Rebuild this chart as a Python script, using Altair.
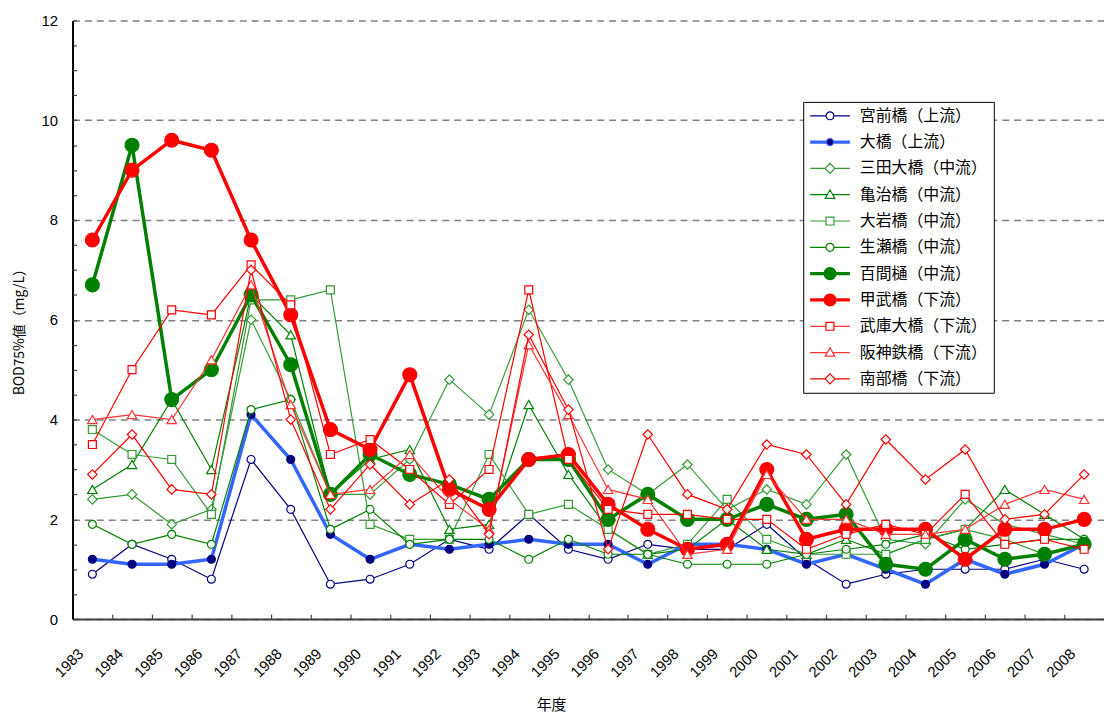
import altair as alt
import pandas as pd

years = [str(y) for y in range(1983, 2009)]

names = ["宮前橋（上流）", "大橋（上流）", "三田大橋（中流）", "亀治橋（中流）", "大岩橋（中流）",
         "生瀬橋（中流）", "百間樋（中流）", "甲武橋（下流）", "武庫大橋（下流）", "阪神鉄橋（下流）", "南部橋（下流）"]

miyamae = [0.9, 1.5, 1.2, 0.8, 3.2, 2.2, 0.7, 0.8, 1.1, 1.6, 1.4, 2.1, 1.4, 1.2, 1.5, 1.4, 1.4, 1.9, 1.2, 0.7, 0.9, 1.0, 1.0, 1.0, 1.2, 1.0]
ohashi = [1.2, 1.1, 1.1, 1.2, 4.1, 3.2, 1.7, 1.2, 1.5, 1.4, 1.5, 1.6, 1.5, 1.5, 1.1, 1.5, 1.5, 1.4, 1.1, 1.3, 1.0, 0.7, 1.2, 0.9, 1.1, 1.5]
sanda = [2.4, 2.5, 1.9, 2.2, 6.0, 4.4, 2.5, 2.5, 3.2, 4.8, 4.1, 6.2, 4.8, 3.0, 2.5, 3.1, 2.2, 2.6, 2.3, 3.3, 1.6, 1.5, 2.4, 1.9, 1.7, 1.5]
kameji = [2.6, 3.1, 4.4, 3.0, 6.5, 5.7, 2.5, 3.2, 3.4, 1.8, 1.9, 4.3, 2.9, 1.8, 1.3, 1.4, 2.0, 1.4, 1.3, 1.6, 1.3, 1.6, 1.8, 2.6, 2.1, 1.6]
oiwa = [3.8, 3.3, 3.2, 2.1, 6.4, 6.4, 6.6, 1.9, 1.6, 1.6, 3.3, 2.1, 2.3, 1.8, 1.3, 1.5, 2.4, 1.6, 1.3, 1.3, 1.3, 1.6, 1.8, 1.6, 1.3, 1.5]
namaze = [1.9, 1.5, 1.7, 1.5, 4.2, 4.4, 1.8, 2.2, 1.5, 1.6, 1.6, 1.2, 1.6, 1.3, 1.3, 1.1, 1.1, 1.1, 1.3, 1.4, 1.5, 1.7, 1.4, 1.5, 1.6, 1.6]
hyakkenhi = [6.7, 9.5, 4.4, 5.0, 6.5, 5.1, 2.5, 3.3, 2.9, 2.7, 2.4, 3.2, 3.2, 2.0, 2.5, 2.0, 2.0, 2.3, 2.0, 2.1, 1.1, 1.0, 1.6, 1.2, 1.3, 1.5]
kobu = [7.6, 9.0, 9.6, 9.4, 7.6, 6.1, 3.8, 3.4, 4.9, 2.6, 2.2, 3.2, 3.3, 2.3, 1.8, 1.4, 1.5, 3.0, 1.6, 1.8, 1.8, 1.8, 1.2, 1.8, 1.8, 2.0]
mukoohashi = [3.5, 5.0, 6.2, 6.1, 7.1, 6.3, 3.3, 3.6, 3.0, 2.3, 3.0, 6.6, 3.2, 2.2, 2.1, 2.1, 2.0, 2.0, 1.4, 1.7, 1.9, 1.7, 2.5, 1.5, 1.6, 1.4]
hanshin = [4.0, 4.1, 4.0, 5.2, 6.7, 4.3, 2.5, 2.6, 3.3, 2.4, 1.8, 5.5, 4.1, 2.6, 2.4, 1.3, 1.4, 2.9, 2.0, 2.0, 1.7, 1.7, 1.8, 2.3, 2.6, 2.4]
nanbu = [2.9, 3.7, 2.6, 2.5, 7.0, 4.0, 2.2, 3.1, 2.3, 2.8, 1.7, 5.7, 4.2, 1.4, 3.7, 2.5, 2.2, 3.5, 3.3, 2.3, 3.6, 2.8, 3.4, 2.0, 2.1, 2.9]

series_values = [miyamae, ohashi, sanda, kameji, oiwa, namaze, hyakkenhi, kobu, mukoohashi, hanshin, nanbu]

y_tick_values = [0, 2, 4, 6, 8, 10, 12]
y_minor_values = [i * 0.5 for i in range(25)]

# styles
line_colors = ["#000080", "#3366FF", "#339933", "#008000", "#339933", "#008000",
               "#008000", "#FF0000", "#FF0000", "#FF3333", "#FF0000"]
line_widths = [1.2, 3.5, 1.2, 1.2, 1.2, 1.2, 3.5, 3.5, 1.2, 1.2, 1.2]
marker_shapes = ["circle", "circle", "diamond", "triangle-up", "square", "circle",
                 "circle", "circle", "square", "triangle-up", "diamond"]
marker_sizes = [64, 64, 90, 90, 64, 64, 196, 196, 64, 90, 90]
marker_strokes = ["#000080", "#000080", "#339933", "#008000", "#339933", "#008000",
                  "#008000", "#FF0000", "#FF0000", "#FF3333", "#FF0000"]
marker_fills = ["white", "#000080", "white", "white", "white", "white",
                "#008000", "#FF0000", "white", "white", "white"]

# legend symbols: line + marker as SVG paths (unit = 4px)
P_CIRCLE = "M-5,0H-1M1,0H5M1,0A1,1,0,1,1,-1,0A1,1,0,1,1,1,0Z"
P_DOT_THICK = ("M-5,-0.25H-1M-5,0H-1M-5,0.25H-1M1,-0.25H5M1,0H5M1,0.25H5"
               "M0.9,0A0.9,0.9,0,1,1,-0.9,0A0.9,0.9,0,1,1,0.9,0Z")
P_BIG = ("M-5,-0.25H-1.5M-5,0H-1.5M-5,0.25H-1.5M1.5,-0.25H5M1.5,0H5M1.5,0.25H5"
         "M1.5,0A1.5,1.5,0,1,1,-1.5,0A1.5,1.5,0,1,1,1.5,0Z")
P_DIAMOND = "M-5,0H-1.25M1.25,0H5M0,-1.25L1.25,0L0,1.25L-1.25,0Z"
P_TRI = "M-5,0H-0.7M0.7,0H5M0,-1.2L1.2,0.9L-1.2,0.9Z"
P_SQUARE = "M-5,0H-1M1,0H5M-1,-1H1V1H-1Z"
legend_paths = [P_CIRCLE, P_DOT_THICK, P_DIAMOND, P_TRI, P_SQUARE, P_CIRCLE,
                P_BIG, P_BIG, P_SQUARE, P_TRI, P_DIAMOND]
legend_strokes = line_colors

rows = []
for n, vals in zip(names, series_values):
    for y, v in zip(years, vals):
        rows.append({"year": y, "series": n, "value": v})
df = pd.DataFrame(rows)

W, H = 1039, 603
step = W / len(years)

xscale = alt.Scale(type="point", padding=0.5, domain=years)
yscale = alt.Scale(domain=[0, 12], nice=False)

FONT_NUM = "Liberation Sans"
FONT_JP = "Noto Sans CJK JP"

main_axes = alt.Chart(df).mark_point(opacity=0).encode(
    x=alt.X("year:O", scale=xscale, axis=alt.Axis(
        title="年度", titleFont=FONT_JP, titleFontSize=15, titleFontWeight="normal",
        titleColor="black", titleX=482, titleY=86, titleBaseline="middle",
        labelAngle=315, labelAlign="right", labelBaseline="middle",
        labelFont=FONT_NUM, labelFontSize=15, labelColor="black",
        labelPadding=32, labelOffset=-12, ticks=False,
        domain=True, domainColor="#404040", domainWidth=2, grid=False)),
    y=alt.Y("value:Q", scale=yscale, axis=alt.Axis(
        title="BOD75%値（mg/L）", titleFont=FONT_JP, titleFontSize=14, titleFontWeight="normal",
        titleColor="black", titleX=-53, titleY=310, titleBaseline="middle", titleAlign="center",
        values=y_tick_values, labelFont=FONT_NUM, labelFontSize=15, labelColor="black",
        labelPadding=15, ticks=False, domain=True, domainColor="black", domainWidth=2,
        grid=True, gridColor="#808080", gridDash=[7, 5], gridWidth=1.5)),
)

tick_axes = alt.Chart(df).mark_point(opacity=0).encode(
    x=alt.X("year:O", scale=xscale, axis=alt.Axis(
        orient="top", offset=-H, labels=False, domain=False, ticks=True, tickSize=5,
        tickOffset=-step / 2, tickColor="#404040", tickWidth=1.2, grid=False, title=None)),
    y=alt.Y("value:Q", scale=yscale, axis=alt.Axis(
        orient="right", offset=-W, values=y_minor_values, labels=False, domain=False,
        ticks=True, tickSize=4, tickColor="#404040", tickWidth=1.2, grid=False, title=None)),
)

series_layers = []
for i, n in enumerate(names):
    base = alt.Chart(df).transform_filter(alt.datum.series == n)
    enc = dict(
        x=alt.X("year:O", scale=xscale, axis=None),
        y=alt.Y("value:Q", scale=yscale, axis=None),
    )
    line = base.mark_line(color=line_colors[i], strokeWidth=line_widths[i]).encode(**enc)
    pts = base.mark_point(shape=marker_shapes[i], size=marker_sizes[i], filled=True,
                          fill=marker_fills[i], stroke=marker_strokes[i],
                          strokeWidth=1.2, opacity=1).encode(**enc)
    series_layers += [line, pts]

leg = alt.Legend(title=None, orient="none", legendX=736, legendY=82)
legend_layer = alt.Chart(df).transform_filter(alt.datum.value < 0).mark_point(
    filled=True, opacity=1, strokeWidth=1.2).encode(
    shape=alt.Shape("series:N", scale=alt.Scale(domain=names, range=legend_paths), legend=leg),
    stroke=alt.Stroke("series:N", scale=alt.Scale(domain=names, range=legend_strokes), legend=leg),
    fill=alt.Fill("series:N", scale=alt.Scale(domain=names, range=marker_fills), legend=leg),
)

chart = alt.layer(main_axes, tick_axes, *series_layers, legend_layer).resolve_axis(
    x="independent", y="independent"
).properties(
    width=W, height=H,
    autosize=alt.AutoSizeParams(type="none"),
    padding={"left": 65, "top": 10, "right": 0, "bottom": 94},
).configure_view(stroke=None).configure_legend(
    padding=6, strokeColor="black", fillColor="white", strokeWidth=1, cornerRadius=0,
    labelFont=FONT_JP, labelFontSize=16, labelColor="black", labelLimit=400,
    rowPadding=8.5, gridAlign="all", symbolSize=64, symbolOffset=13, labelOffset=22,
    symbolStrokeWidth=1.2,
)

chart.save("out.html", embed_options={"renderer": "svg", "actions": False})
